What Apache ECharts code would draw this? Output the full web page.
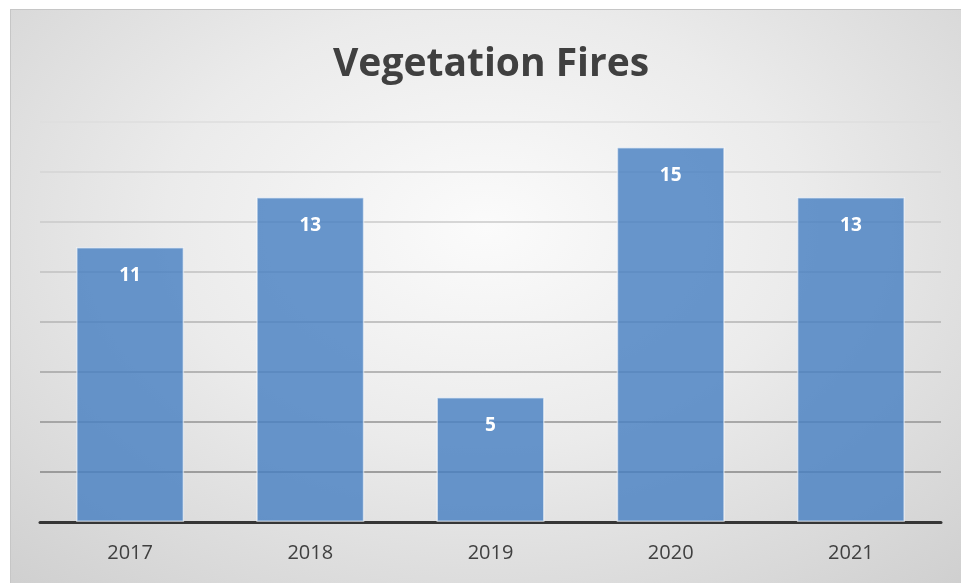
<html>
<head>
<meta charset="utf-8">
<title>Vegetation Fires</title>
<script src="https://cdn.jsdelivr.net/npm/echarts@6/dist/echarts.min.js"></script>
<style>
body { margin: 0; background: #fff; }
#frame { position: absolute; left: 10px; top: 9px; width: 950px; height: 573px;
  border: 1px solid #c6c6c6; border-right: none; border-bottom: none;
  background: radial-gradient(ellipse 75% 85% at 50% 38%, #fbfbfb 0%, #ebebeb 45%, #cfcfcf 100%); }
#main { position: absolute; left: 0; top: 0; width: 961px; height: 583px; }
</style>
</head>
<body>
<div id="frame"></div>
<div id="main"></div>
<script type="text/javascript">
var years = ['2017', '2018', '2019', '2020', '2021'];
var fires = [11, 13, 5, 15, 13];

var myChart = echarts.init(document.getElementById('main'));
myChart.setOption({
	title : {
		text : 'Vegetation Fires',
		left : 328,
		top : 40,
		textStyle : { fontFamily : 'Open Sans', fontSize : 39, fontWeight : 'bold', color : '#404040' }
	},
	grid : { left : 40, right : 20, top : 122, bottom : 61 },
	xAxis : {
		type : 'category',
		data : years,
		axisTick : { show : false },
		axisLine : { lineStyle : { color : '#363636', width : 3 } },
		axisLabel : { fontFamily : 'Open Sans', fontSize : 20, color : '#404040', margin : 21 }
	},
	yAxis : {
		type : 'value',
		min : 0,
		max : 16,
		interval : 2,
		axisLabel : { show : false },
		axisLine : { show : false },
		splitLine : { lineStyle : { width : 1.5, color : ['#777', '#868686', '#939393', '#a3a3a3', '#b3b3b3', '#c1c1c1', '#cacaca', '#d4d4d4', '#dedede'] } }
	},
	series : [ {
		type : 'bar',
		data : fires,
		barWidth : 108,
		itemStyle : { color : 'rgba(72,128,194,0.82)', borderColor : 'rgba(255,255,255,0.55)', borderWidth : 1.5 },
		label : {
			show : true,
			position : 'insideTop',
			distance : 19,
			fontFamily : 'Open Sans',
			fontSize : 19,
			fontWeight : 'bold',
			color : '#fff'
		}
	} ]
});
</script>
</body>
</html>
